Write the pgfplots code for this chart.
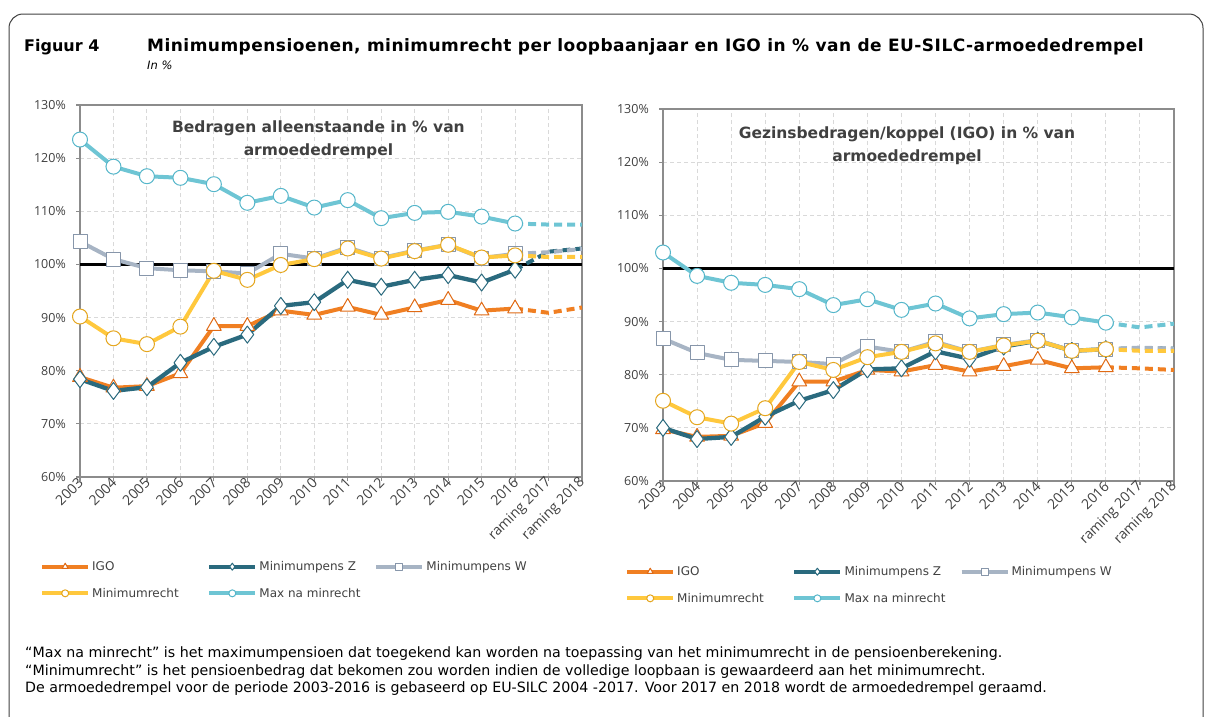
\documentclass[border=0pt]{standalone}
\usepackage{fontspec}
\setmainfont{DejaVu Sans}
\newfontfamily\tickfont{Open Sans}
\usepackage{pgfplots}
\usepackage{pgfplotstable}
\pgfplotsset{compat=1.18}

\definecolor{cIGO}{HTML}{F07F22}
\definecolor{cIGOd}{HTML}{E06A14}
\definecolor{cZ}{HTML}{2A6A7E}
\definecolor{cW}{HTML}{A7B4C4}
\definecolor{cWd}{HTML}{8796AA}
\definecolor{cMR}{HTML}{FFC83D}
\definecolor{cMRd}{HTML}{E5A61E}
\definecolor{cMax}{HTML}{6EC5D4}
\definecolor{cMaxd}{HTML}{55B6CA}
\definecolor{axisgray}{HTML}{8C8C8C}
\definecolor{gridgray}{HTML}{D9D9D9}
\definecolor{txtgray}{HTML}{404040}
\definecolor{framecol}{HTML}{404040}

\pgfplotstableread{
x igo z w mr max
0 78.8 78.4 104.3 90.2 123.5
1 76.8 76.2 101.0 86.1 118.4
2 77.1 76.9 99.3 85.0 116.6
3 79.5 81.5 98.9 88.3 116.3
4 88.4 84.5 98.7 98.8 115.1
5 88.4 86.8 98.3 97.1 111.6
6 91.3 92.2 102.0 99.9 112.9
7 90.5 92.9 101.1 101.0 110.7
8 92.0 97.1 103.2 103.0 112.1
9 90.5 95.8 101.2 101.1 108.7
10 91.9 97.1 102.6 102.5 109.7
11 93.3 98.0 103.7 103.7 109.9
12 91.3 96.6 101.2 101.3 109.0
13 91.7 99.0 102.0 101.7 107.7
14 90.9 102.4 102.3 101.4 107.5
15 91.9 103.0 102.9 101.4 107.5
}\leftdata

\pgfplotstableread{
x igo z w mr max
0 69.7 70.0 86.8 75.1 103.0
1 68.3 67.9 84.1 72.0 98.6
2 68.5 68.3 82.8 70.8 97.3
3 70.9 72.1 82.6 73.7 96.9
4 78.7 75.1 82.4 82.4 96.1
5 78.7 77.1 82.0 80.9 93.1
6 80.9 81.0 85.3 83.3 94.2
7 80.6 81.2 84.3 84.3 92.2
8 81.8 84.4 86.2 85.9 93.4
9 80.6 83.0 84.3 84.3 90.6
10 81.6 85.3 85.6 85.5 91.4
11 82.8 86.4 86.5 86.4 91.7
12 81.2 84.5 84.5 84.5 90.8
13 81.4 84.8 84.8 84.8 89.8
14 81.2 85.0 85.1 84.5 88.9
15 80.9 84.9 84.9 84.5 89.6
}\rightdata

\pgfplotsset{
  mychart/.style={
    scale only axis,
    xmin=0, xmax=15, ymin=60, ymax=130,
    xtick={0,...,15},
    xticklabels={2003,2004,2005,2006,2007,2008,2009,2010,2011,2012,2013,2014,2015,2016,raming 2017,raming 2018},
    ytick={60,70,...,130},
    yticklabels={60\%,70\%,80\%,90\%,100\%,110\%,120\%,130\%},
    grid=major,
    major grid style={draw=gridgray, line width=0.9pt, dash pattern=on 4pt off 3pt},
    axis line style={draw=axisgray, line width=2.5pt},
    tick style={draw=axisgray, line width=1.2pt},
    major tick length=4pt, tick align=outside,
    xtick pos=bottom, ytick pos=left,
    xticklabel style={rotate=45, anchor=east, font=\tickfont\fontsize{14}{16}\selectfont, text=txtgray, inner sep=1pt, xshift=2pt},
    yticklabel style={font=\tickfont\fontsize{12.5}{14}\selectfont, text=txtgray, inner sep=2pt, xshift=-8pt},
    clip=false,
    legend columns=3,
    legend cell align=left,
    legend image code/.code={\draw[mark repeat=2,mark phase=2,#1,mark size=3.5pt] plot coordinates {(0pt,0pt) (23pt,0pt) (46pt,0pt)};},
    legend style={draw=none, fill=none, anchor=west, font=\fontsize{12}{14}\selectfont, text=txtgray,
      nodes={inner sep=2pt}, row sep=12pt},
  },
  sIGO/.style={color=cIGO, line width=4pt, line join=round, mark=triangle*, mark size=8.5pt, mark options={solid, fill=white, draw=cIGOd, line width=1pt}},
  sZ/.style={color=cZ, line width=4.3pt, line join=round, mark=diamond*, mark size=8.5pt, mark options={solid, fill=white, draw=cZ, line width=1pt}},
  sW/.style={color=cW, line width=4pt, line join=round, mark=square*, mark size=7pt, mark options={solid, fill=white, draw=cWd, line width=1pt}},
  sMR/.style={color=cMR, line width=4pt, line join=round, mark=*, mark size=7.5pt, mark options={solid, fill=white, draw=cMRd, line width=1pt}},
  sMax/.style={color=cMax, line width=4pt, line join=round, mark=*, mark size=7.5pt, mark options={solid, fill=white, draw=cMaxd, line width=1pt}},
  dsh/.style={line width=4pt, dash pattern=on 8pt off 5pt, forget plot, restrict x to domain=13:15},
  sol/.style={restrict x to domain=0:13},
}

\begin{document}
\begin{tikzpicture}
\useasboundingbox (0,0) rectangle (1209pt,-716pt);
\draw[rounded corners=14pt, draw=framecol, line width=1pt] (9pt,-14pt) rectangle (1203pt,-760pt);

\node[anchor=base west, inner sep=0pt, font=\bfseries\fontsize{16}{18}\selectfont] at (24pt,-51pt) {Figuur 4};
\node[anchor=base west, inner sep=0pt, font=\bfseries\fontsize{17}{18}\selectfont\addfontfeature{LetterSpace=2.8}] at (147pt,-51pt) {Minimumpensioenen, minimumrecht per loopbaanjaar en IGO in \% van de EU-SILC-armoededrempel};
\node[anchor=base west, inner sep=0pt, font=\itshape\fontsize{11.5}{13}\selectfont] at (147pt,-69pt) {In \%};

\node[anchor=base west, inner sep=0pt, font=\fontsize{14.2}{16}\selectfont] at (25pt,-657.5pt) {“Max na minrecht” is het maximumpensioen dat toegekend kan worden na toepassing van het minimumrecht in de pensioenberekening.};
\node[anchor=base west, inner sep=0pt, font=\fontsize{14.2}{16}\selectfont] at (25pt,-675pt) {“Minimumrecht” is het pensioenbedrag dat bekomen zou worden indien de volledige loopbaan is gewaardeerd aan het minimumrecht.};
\node[anchor=base west, inner sep=0pt, font=\fontsize{14.2}{16}\selectfont] at (25pt,-692.5pt) {De armoededrempel voor de periode 2003-2016 is gebaseerd op EU-SILC 2004 -2017. Voor 2017 en 2018 wordt de armoededrempel geraamd.};

% LEFT
\begin{axis}[mychart, width=502pt, height=372pt, at={(80pt,-105pt)}, anchor=north west,
  legend style={at={(axis description cs:-0.0857,-0.2769)}}]
\addplot[black, line width=2.5pt, forget plot] coordinates {(0,100) (15,100)};
\addplot[sIGO, dsh, mark=none] table[x=x, y=igo] {\leftdata};
\addplot[sZ, dsh, mark=none] table[x=x, y=z] {\leftdata};
\addplot[sW, dsh, mark=none] table[x=x, y=w] {\leftdata};
\addplot[sMR, dsh, mark=none] table[x=x, y=mr] {\leftdata};
\addplot[sMax, dsh, mark=none] table[x=x, y=max] {\leftdata};
\addplot[sIGO, sol] table[x=x, y=igo] {\leftdata};
\addlegendentry{\makebox[113pt][l]{IGO}}
\addplot[sZ, sol] table[x=x, y=z] {\leftdata};
\addlegendentry{\makebox[113pt][l]{Minimumpens Z}}
\addplot[sW, sol] table[x=x, y=w] {\leftdata};
\addlegendentry{\makebox[113pt][l]{Minimumpens W}}
\addplot[sMR, sol] table[x=x, y=mr] {\leftdata};
\addlegendentry{\makebox[113pt][l]{Minimumrecht}}
\addplot[sMax, sol] table[x=x, y=max] {\leftdata};
\addlegendentry{\makebox[113pt][l]{Max na minrecht}}
\node[font=\bfseries\fontsize{15.5}{23}\selectfont, text=txtgray, align=center] at (axis description cs:0.475,0.907) {Bedragen alleenstaande in \% van\\armoededrempel};
\end{axis}

% RIGHT
\begin{axis}[mychart, width=511pt, height=372pt, at={(663pt,-109pt)}, anchor=north west,
  legend style={at={(axis description cs:-0.0802,-0.2796)}}]
\addplot[black, line width=2.5pt, forget plot] coordinates {(0,100) (15,100)};
\addplot[sIGO, dsh, mark=none] table[x=x, y=igo] {\rightdata};
\addplot[sZ, dsh, mark=none] table[x=x, y=z] {\rightdata};
\addplot[sW, dsh, mark=none] table[x=x, y=w] {\rightdata};
\addplot[sMR, dsh, mark=none] table[x=x, y=mr] {\rightdata};
\addplot[sMax, dsh, mark=none] table[x=x, y=max] {\rightdata};
\addplot[sIGO, sol] table[x=x, y=igo] {\rightdata};
\addlegendentry{\makebox[113pt][l]{IGO}}
\addplot[sZ, sol] table[x=x, y=z] {\rightdata};
\addlegendentry{\makebox[113pt][l]{Minimumpens Z}}
\addplot[sW, sol] table[x=x, y=w] {\rightdata};
\addlegendentry{\makebox[113pt][l]{Minimumpens W}}
\addplot[sMR, sol] table[x=x, y=mr] {\rightdata};
\addlegendentry{\makebox[113pt][l]{Minimumrecht}}
\addplot[sMax, sol] table[x=x, y=max] {\rightdata};
\addlegendentry{\makebox[113pt][l]{Max na minrecht}}
\node[font=\bfseries\fontsize{15.5}{23}\selectfont, text=txtgray, align=center] at (axis description cs:0.4775,0.902) {Gezinsbedragen/koppel (IGO) in \% van\\armoededrempel};
\end{axis}
\end{tikzpicture}
\end{document}
